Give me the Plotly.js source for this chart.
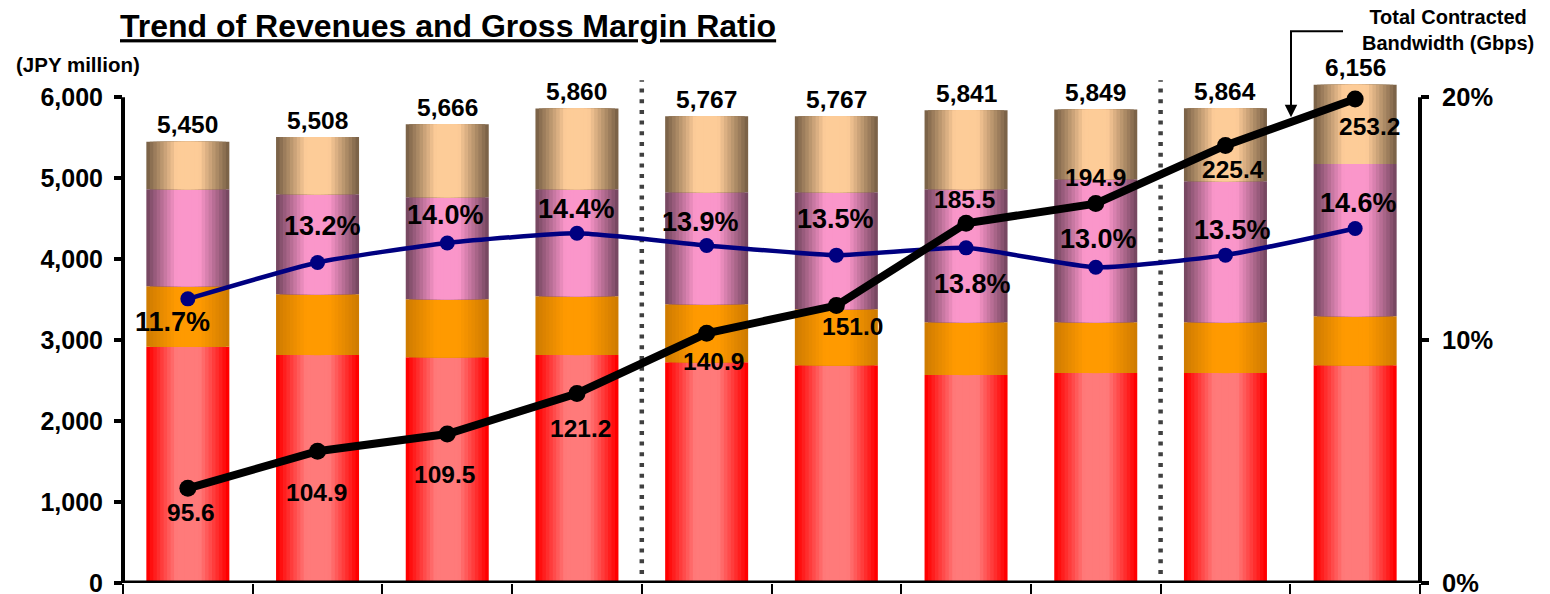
<!DOCTYPE html>
<html><head><meta charset="utf-8">
<script src="https://cdn.plot.ly/plotly-3.0.1.min.js"></script>
<style>html,body{margin:0;padding:0;background:#fff;} #chart{width:1550px;height:594px;}</style>
</head><body><div id="chart"></div>
<script>
// ---- data ----
const periods = [0, 1, 2, 3, 4, 5, 6, 7, 8, 9];
const revRed    = [2917, 2815, 2790, 2815, 2728, 2691, 2568, 2593, 2593, 2691];
const revOrange = [750, 753, 716, 728, 716, 692, 654, 629, 629, 605];
const revPink   = [1197, 1234, 1259, 1321, 1383, 1444, 1642, 1766, 1741, 1881];
const revTan    = [586, 706, 901, 996, 940, 940, 977, 861, 901, 979];
const revTotal  = [5450, 5508, 5666, 5860, 5767, 5767, 5841, 5849, 5864, 6156];
const grossMargin = [0.117, 0.132, 0.140, 0.144, 0.139, 0.135, 0.138, 0.130, 0.135, 0.146];
const bandwidth = [95.6, 104.9, 109.5, 121.2, 140.9, 151.0, 185.5, 194.9, 225.4, 253.2];
const yenTicks = [0, 1000, 2000, 3000, 4000, 5000, 6000];
const pctTicks = [0, 0.1, 0.2];
const periodBreaks = [3.5, 7.5];

// ---- label offsets (px) ----
const gmShift = [[-15,-23],[5,36],[-2,28],[0,24],[-6,23],[-1,36],[6,-36],[3,28],[7,25],[3,25]];
const bwShift = [[3,-24],[-1,-41],[-3,-40],[4,-35],[7,-28],[16,-21],[-2,24],[0,26],[8,-24],[14,-28]];

// ---- geometry ----
const W = 1550, H = 594, ML = 123, MR = 130, MB = 11, PH = 510.3;
const MT = H - MB - PH;
const PW = W - ML - MR;
const px = x => (x - ML) / PW;
const py = y => (H - MB - y) / PH;

const FONT = 'Liberation Sans, Arial, sans-serif';
const bold = (size, color) => ({family: FONT, size: size, color: color || '#000', weight: 'bold'});

// ---- bars with simulated horizontal gradient ----
const segments = [
  {vals: revRed,    edge: [255, 0, 0],    center: [255, 122, 122]},
  {vals: revOrange, edge: [208, 124, 0],  center: [255, 154, 0]},
  {vals: revPink,   edge: [120, 72, 98],  center: [250, 150, 202]},
  {vals: revTan,    edge: [124, 99, 72],  center: [253, 204, 152]}
];
const traces = [];
const NL = 12, BW = 0.64;
let base = periods.map(() => 0);
segments.forEach(seg => {
  for (let k = 0; k < NL; k++) {
    const t = Math.min(1, (k / (NL - 1)) * 1.35);
    const c = seg.edge.map((e, i) => Math.round(e + (seg.center[i] - e) * t));
    traces.push({
      type: 'bar', x: periods, y: seg.vals, base: base.slice(),
      width: BW * (1 - k / NL),
      marker: {color: 'rgb(' + c.join(',') + ')', line: {width: 0}},
      hoverinfo: 'skip', showlegend: false
    });
  }
  base = base.map((b, i) => b + seg.vals[i]);
});

traces.push({
  type: 'scatter', mode: 'lines+markers', x: periods, y: grossMargin, yaxis: 'y2',
  line: {color: '#000080', width: 4.5, shape: 'spline', smoothing: 0.5},
  marker: {color: '#000080', size: 15}, hoverinfo: 'skip', showlegend: false
});
traces.push({
  type: 'scatter', mode: 'lines+markers', x: periods, y: bandwidth, yaxis: 'y3',
  line: {color: '#000', width: 8},
  marker: {color: '#000', size: 17}, hoverinfo: 'skip', showlegend: false
});

// ---- annotations ----
const ann = [];
periods.forEach((p, i) => {
  ann.push({x: p, y: revTotal[i], xref: 'x', yref: 'y', text: revTotal[i].toLocaleString('en-US'),
    showarrow: false, xanchor: 'center', yanchor: 'middle', yshift: 17, font: bold(24.5)});
  ann.push({x: p, y: grossMargin[i], xref: 'x', yref: 'y2', text: (grossMargin[i] * 100).toFixed(1) + '%',
    showarrow: false, xanchor: 'center', yanchor: 'middle', xshift: gmShift[i][0], yshift: gmShift[i][1], font: bold(27)});
  ann.push({x: p, y: Math.log10(bandwidth[i]), xref: 'x', yref: 'y3', text: bandwidth[i].toFixed(1),
    showarrow: false, xanchor: 'center', yanchor: 'middle', xshift: bwShift[i][0], yshift: bwShift[i][1], font: bold(24.5)});
});
ann.push({xref: 'paper', yref: 'paper', x: px(78), y: py(64), xanchor: 'center', yanchor: 'middle',
  text: '(JPY million)', showarrow: false, font: bold(20.5)});
ann.push({xref: 'paper', yref: 'paper', x: px(1448), y: py(30), xanchor: 'center', yanchor: 'middle',
  text: 'Total Contracted<br>Bandwidth (Gbps)', showarrow: false, align: 'center', font: bold(20)});
ann.push({xref: 'paper', yref: 'paper', x: px(1291), y: py(117), ax: 0, ay: -14, text: '',
  showarrow: true, arrowhead: 2, arrowsize: 1.25, arrowwidth: 2, arrowcolor: '#000'});

// ---- shapes ----
const shapes = [];
periodBreaks.forEach(b => shapes.push({type: 'line', xref: 'x', yref: 'paper', x0: b, x1: b, y0: py(574), y1: py(80),
  line: {color: '#404040', width: 4.5, dash: '4px,6.7px'}, layer: 'below'}));
shapes.push({type: 'line', xref: 'paper', yref: 'y', x0: 0, x1: 0, y0: 0, y1: 6000, line: {color: '#000', width: 4}});
shapes.push({type: 'line', xref: 'paper', yref: 'y', x0: 1, x1: 1, y0: 0, y1: 6000, line: {color: '#000', width: 4}});
shapes.push({type: 'line', xref: 'paper', yref: 'y', x0: px(121), x1: px(1422), y0: 0, y1: 0, line: {color: '#000', width: 5}});
shapes.push({type: 'path', xref: 'paper', yref: 'paper',
  path: 'M ' + px(1343) + ' ' + py(31) + ' L ' + px(1291) + ' ' + py(31) + ' L ' + px(1291) + ' ' + py(105),
  line: {color: '#000', width: 2}});

const layout = {
  width: W, height: H,
  margin: {l: ML, r: MR, t: MT, b: MB, pad: 0},
  paper_bgcolor: '#fff', plot_bgcolor: '#fff',
  barmode: 'overlay',
  showlegend: false,
  title: {text: 'Trend of Revenues and Gross Margin Ratio', xref: 'container', yref: 'container',
    x: 120 / W, xanchor: 'left', y: 1 - 26 / H, yanchor: 'middle',
    font: {family: FONT, size: 32, weight: 'bold', color: '#000', lineposition: 'under'}},
  xaxis: {range: [-0.5, 9.5], tickmode: 'array', tickvals: [-0.5,0.5,1.5,2.5,3.5,4.5,5.5,6.5,7.5,8.5,9.5],
    ticks: 'outside', ticklen: 16, tickwidth: 2, tickcolor: '#000', showticklabels: false,
    showgrid: false, zeroline: false, showline: false, fixedrange: true},
  yaxis: {range: [0, 6300], tickmode: 'array', tickvals: yenTicks, tickformat: ',',
    ticks: 'outside', ticklen: 8, tickwidth: 4, tickcolor: '#000', ticklabelstandoff: 6,
    ticklabeloverflow: 'allow',
    tickfont: bold(25), showgrid: false, zeroline: false, showline: false, fixedrange: true},
  yaxis2: {overlaying: 'y', side: 'right', range: [0, 0.21], tickmode: 'array', tickvals: pctTicks, tickformat: '.0%',
    ticks: 'outside', ticklen: 8, tickwidth: 4, tickcolor: '#000', ticklabelstandoff: 8,
    ticklabeloverflow: 'allow',
    tickfont: bold(25.5), showgrid: false, zeroline: false, showline: false, fixedrange: true},
  yaxis3: {overlaying: 'y', type: 'log', range: [1.87755, 2.43169], visible: false, fixedrange: true},
  annotations: ann,
  shapes: shapes
};

Plotly.newPlot('chart', traces, layout, {displayModeBar: false, staticPlot: true});
</script>
</body></html>
